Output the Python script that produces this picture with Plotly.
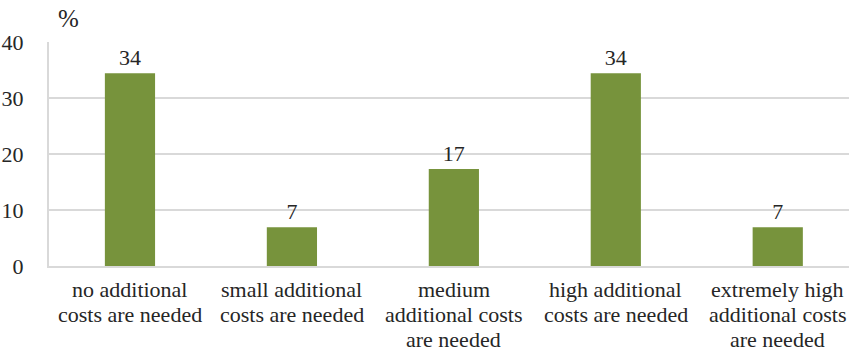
import plotly.graph_objects as go

# Survey answers: how much extra cost is needed
categories = [
    "no additional<br>costs are needed",
    "small additional<br>costs are needed",
    "medium<br>additional costs<br>are needed",
    "high additional<br>costs are needed",
    "extremely high<br>additional costs<br>are needed",
]
shares = [34.4, 6.9, 17.3, 34.4, 6.9]
y_ticks = [0, 10, 20, 30, 40]

FONT = "Liberation Serif"
TEXT = "#262626"
GRID = "#D9D9D9"
LABEL_SIZE = 22
LINE_STEP = 25        # px between category label lines
FIRST_LINE_GAP = 10   # px from axis to first label line box

positions = list(range(len(categories)))

fig = go.Figure(
    go.Bar(
        x=positions,
        y=shares,
        width=0.31,
        marker=dict(color="#77933C", line=dict(width=0)),
        texttemplate="%{y:.0f}",
        textposition="outside",
        textfont=dict(family=FONT, size=22, color=TEXT),
        cliponaxis=False,
        hoverinfo="skip",
    )
)

# Category labels, one annotation per line for tighter line spacing
annotations = []
for pos, label in zip(positions, categories):
    for i, line in enumerate(label.split("<br>")):
        annotations.append(
            dict(
                text=line,
                x=pos,
                xref="x",
                y=0,
                yref="y",
                xanchor="center",
                yanchor="top",
                yshift=-(FIRST_LINE_GAP + i * LINE_STEP),
                borderpad=0,
                showarrow=False,
                font=dict(family=FONT, size=LABEL_SIZE, color=TEXT),
            )
        )

annotations.append(
    dict(
        text="%",
        xref="paper",
        yref="paper",
        x=0.009,
        y=1.0,
        xanchor="left",
        yanchor="bottom",
        yshift=8,
        showarrow=False,
        font=dict(family=FONT, size=25, color=TEXT),
    )
)

fig.update_layout(
    template="none",
    width=849,
    height=355,
    margin=dict(l=49, r=0, t=42, b=89),
    paper_bgcolor="white",
    plot_bgcolor="white",
    showlegend=False,
    font=dict(family=FONT, size=22, color=TEXT),
    xaxis=dict(
        range=[-0.5, 4.44],
        tickmode="array",
        tickvals=positions,
        showticklabels=False,
        showgrid=False,
        zeroline=False,
        showline=True,
        linecolor=GRID,
        linewidth=2,
        ticks="",
    ),
    yaxis=dict(
        range=[0, 40],
        tickmode="array",
        tickvals=y_ticks,
        tickfont=dict(family=FONT, size=22, color=TEXT),
        showgrid=True,
        gridcolor=GRID,
        gridwidth=2,
        zeroline=False,
        showline=True,
        linecolor=GRID,
        linewidth=2,
        ticks="",
        ticklabelstandoff=19,
    ),
    annotations=annotations,
)

fig.write_html("out.html")
